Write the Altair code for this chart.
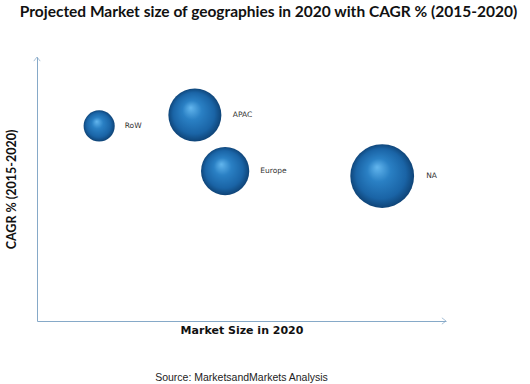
import altair as alt
import pandas as pd
import numpy as np

regions = ["RoW", "APAC", "Europe", "NA"]
market_size = [15.2, 38.6, 46.0, 84.4]      # x position (relative units)
cagr = [73.9, 78.0, 56.8, 54.9]             # y position (relative units)
bubble = [10, 29, 24, 42]                   # bubble size (relative market size)

W, H = 409, 264
SIZE_MAX = 4072
df = pd.DataFrame({"region": regions, "x": market_size, "y": cagr, "s": bubble})
r_px = np.sqrt(df["s"] / 42 * SIZE_MAX / np.pi)
df["lx"] = df["x"] + (r_px + 8) / (W / 100)

xs = alt.Scale(domain=[0, 100], nice=False, zero=False)
ys = alt.Scale(domain=[0, 100], nice=False, zero=False)

axis_color = "#86a9c8"

grad = {
    "gradient": "radial",
    "x1": 0.42, "y1": 0.36, "r1": 0.0,
    "x2": 0.5, "y2": 0.5, "r2": 0.52,
    "stops": [
        {"offset": 0.0, "color": "#63b6ee"},
        {"offset": 0.35, "color": "#2a80c4"},
        {"offset": 0.75, "color": "#1a64a6"},
        {"offset": 1.0, "color": "#0d3f70"},
    ],
}

base = alt.Chart(df)

bubbles = base.mark_point(shape="circle", filled=True, fill=grad, opacity=1, strokeWidth=0).encode(
    x=alt.X("x:Q", scale=xs, axis=alt.Axis(title="Market Size in 2020", domain=True, domainColor=axis_color,
                                           ticks=False, labels=False, grid=False, titleFont="DejaVu Sans",
                                           titleFontSize=11, titleFontWeight="bold", titleColor="#111",
                                           titlePadding=3)),
    y=alt.Y("y:Q", scale=ys, axis=alt.Axis(title="CAGR % (2015-2020)", domain=True, domainColor=axis_color,
                                           ticks=False, labels=False, grid=False, titleFont="Lato",
                                           titleFontSize=12.5, titleFontWeight="bold", titleColor="#111",
                                           titlePadding=19)),
    size=alt.Size("s:Q", scale=alt.Scale(domain=[0, 42], range=[0, SIZE_MAX]), legend=None),
)

labels = base.mark_text(align="left", baseline="middle", font="DejaVu Sans", fontSize=7.5, color="#333").encode(
    x=alt.X("lx:Q", scale=xs),
    y=alt.Y("y:Q", scale=ys),
    text="region:N",
)

arrows_df = pd.DataFrame({"ax": [0, 100], "ay": [100, 0], "ang": [0, 90]})
arrows = alt.Chart(arrows_df).mark_point(shape="M-1,1.3L0,0L1,1.3", filled=False, stroke=axis_color,
                                         strokeWidth=1, size=40).encode(
    x=alt.X("ax:Q", scale=xs),
    y=alt.Y("ay:Q", scale=ys),
    angle=alt.Angle("ang:Q", scale=None),
)

source = alt.Chart(pd.DataFrame({"t": ["Source: MarketsandMarkets Analysis"]})).mark_text(
    font="Liberation Sans", fontSize=10.5, color="#222", align="center", baseline="middle"
).encode(x=alt.value(W / 2), y=alt.value(321), text="t:N")

chart = alt.layer(bubbles, labels, arrows, source).properties(
    width=W, height=H,
    title=alt.TitleParams("Projected Market size of geographies in 2020 with CAGR % (2015-2020)",
                          font="Lato", fontSize=15.5, fontWeight="bold", color="#111",
                          anchor="middle", dx=27, offset=35),
    autosize=alt.AutoSizeParams(type="none"),
    padding={"left": 37, "top": 57, "right": 84, "bottom": 63},
).configure(background="white").configure_view(stroke=None)

chart.save("out.html", embed_options={"renderer": "svg", "actions": False})
